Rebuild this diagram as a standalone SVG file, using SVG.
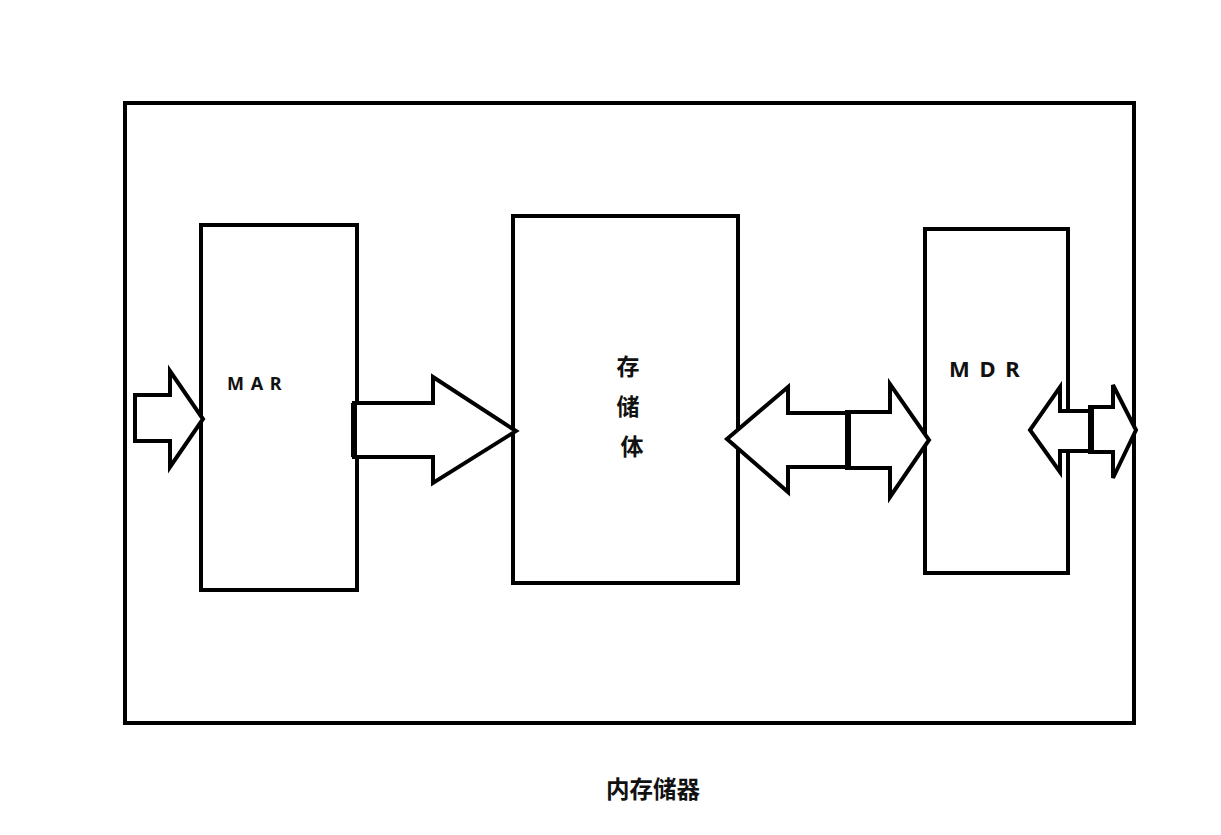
<svg xmlns="http://www.w3.org/2000/svg" width="1221" height="835" viewBox="0 0 1221 835">
<style>
.box{fill:none;stroke:#000;stroke-width:4}
.arr{fill:#fff;stroke:#000;stroke-width:4;stroke-linejoin:miter}
.lbl{font-family:"Noto Sans","Liberation Sans",sans-serif;font-weight:bold;fill:#111}
.cjk{font-family:"Noto Sans CJK SC",sans-serif;font-weight:bold;fill:#111}
</style>
<rect width="1221" height="835" fill="#fff"/>
<g id="memory">
<rect class="box" x="125" y="103" width="1009" height="620"/>
<text class="cjk" x="653" y="798" font-size="23.5" text-anchor="middle">内存储器</text>
</g>
<g id="mar">
<rect class="box" x="201" y="225" width="156" height="365"/>
<text class="lbl" x="227" y="390" font-size="18" letter-spacing="1">M A R</text>
</g>
<g id="storage">
<rect class="box" x="513" y="216" width="225" height="367"/>
<text class="cjk" x="628" y="375" font-size="23" text-anchor="middle">存</text>
<text class="cjk" x="628" y="415" font-size="23" text-anchor="middle">储</text>
<text class="cjk" x="632" y="455" font-size="23" text-anchor="middle">体</text>
</g>
<g id="mdr">
<rect class="box" x="925" y="229" width="143" height="344"/>
<text class="lbl" x="949" y="377" font-size="22" letter-spacing="2">M D R</text>
</g>
<g id="connectors">
<polygon class="arr" points="135,395 170,395 170,371 203,419 170,467 170,441 135,441"/>
<polygon class="arr" points="354,403 433,403 433,377 516,431 433,483 433,457 354,457"/>
<line x1="354" y1="403" x2="354" y2="457" stroke="#000" stroke-width="6"/>
<polygon class="arr" points="847,413 788,413 788,387 727,439 788,492 788,467 847,467"/>
<polygon class="arr" points="847,412 890,412 890,384 929,440 890,497 890,468 847,468"/>
<line x1="848" y1="412" x2="848" y2="468" stroke="#000" stroke-width="6"/>
<polygon class="arr" points="1090,411 1060,411 1060,387 1030,430 1060,472 1060,451 1090,451"/>
<polygon class="arr" points="1090,407 1113,407 1113,385 1136,430 1113,478 1113,452 1090,452"/>
<line x1="1091" y1="407" x2="1091" y2="452" stroke="#000" stroke-width="6"/>
</g>
</svg>
